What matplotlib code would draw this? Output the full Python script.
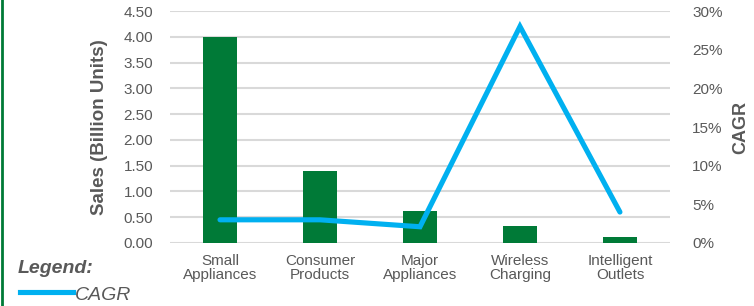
import matplotlib.pyplot as plt
from matplotlib.lines import Line2D

categories = ['Small\nAppliances', 'Consumer\nProducts', 'Major\nAppliances',
              'Wireless\nCharging', 'Intelligent\nOutlets']
sales = [4.00, 1.40, 0.62, 0.33, 0.12]
cagr = [3.0, 3.0, 2.1, 28.0, 4.0]
left_ticks = [0, 0.5, 1, 1.5, 2, 2.5, 3, 3.5, 4, 4.5]
right_ticks = [0, 5, 10, 15, 20, 25, 30]

plt.rcParams['font.family'] = ['Liberation Sans', 'DejaVu Sans']
gray = '#595959'
green = '#007A37'
blue = '#00B0F0'

fig = plt.figure(figsize=(7.54, 3.06), dpi=100)
ax = fig.add_axes([0.2255, 0.2059, 0.663, 0.758])
x = range(len(categories))

ax.bar(x, sales, width=0.34, color=green, zorder=3)
ax.set_ylim(0, 4.5)
ax.set_xlim(-0.5, len(categories) - 0.5)
ax.set_yticks(left_ticks)
ax.set_yticklabels([f'{t:.2f}' for t in left_ticks])
ax.yaxis.grid(True, color='#d9d9d9', lw=1.5, zorder=0)
ax.set_axisbelow(True)
ax.set_xticks(list(x))
ax.set_xticklabels(categories, linespacing=1.0)
ax.tick_params(axis='y', length=0, pad=12, labelsize=11, labelcolor=gray)
ax.tick_params(axis='x', length=0, pad=8, labelsize=11, labelcolor=gray)
for s in ax.spines.values():
    s.set_visible(False)
ax.set_ylabel('Sales (Billion Units)', fontsize=13.5, fontweight='bold', color=gray)
ax.yaxis.set_label_coords(-0.124, 0.5)

ax2 = ax.twinx()
ax2.plot(x, cagr, color=blue, lw=3.7, solid_capstyle='round', solid_joinstyle='miter', zorder=4)
ax2.set_ylim(0, 30)
ax2.set_yticks(right_ticks)
ax2.set_yticklabels([f'{t}%' for t in right_ticks])
ax2.tick_params(axis='y', length=0, pad=16, labelsize=11, labelcolor=gray)
for s in ax2.spines.values():
    s.set_visible(False)
ax2.set_ylabel('CAGR', fontsize=13, fontweight='bold', color=gray)
ax2.yaxis.set_label_coords(1.124, 0.5)

# left green border
fig.add_artist(Line2D([0.003, 0.003], [0, 1], color=green, lw=2, transform=fig.transFigure))

# custom legend
fig.text(0.024, 0.124, 'Legend:', fontsize=14, fontstyle='italic', fontweight='bold',
         color=gray, va='center')
fig.add_artist(Line2D([0.0265, 0.097], [0.046, 0.046], color=blue, lw=3.7, transform=fig.transFigure))
fig.text(0.1, 0.033, 'CAGR', fontsize=14, fontstyle='italic', color=gray, va='center')

fig.savefig('out.png', dpi=100)
